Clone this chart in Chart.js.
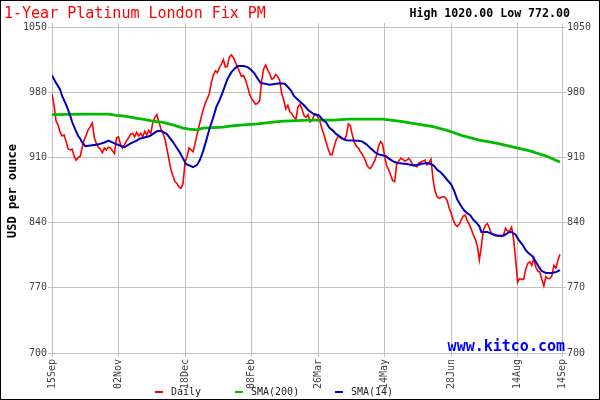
<!DOCTYPE html>
<html>
<head>
<meta charset="utf-8">
<script src="https://cdn.jsdelivr.net/npm/chart.js@4.4.1/dist/chart.umd.min.js"></script>
<style>
html,body{margin:0;padding:0;background:#fff;}
canvas{display:block;}
</style>
</head>
<body>
<canvas id="c" width="600" height="400"></canvas>
<script>
// ---- data ----
const tickLabels = ["15Sep","02Nov","18Dec","08Feb","26Mar","14May","28Jun","14Aug","14Sep"];
const tickIdx = [0,33,66,99,132,165,198,231,253];
const yTicks = [700,770,840,910,980,1050];

const daily = [
978,966,949,945,937,933,934,927,919,918,
919,911,907,910,911,921,929,934,940,943,
947,931,925,921,919,915,920,918,921,920,
917,914,931,932,924,920,924,928,931,935,
936,932,937,933,936,932,938,934,939,936,
947,953,956,948,941,936,930,919,908,897,
890,884,882,878,877,882,905,911,920,918,
916,925,935,944,953,961,968,973,978,990,
998,1003,1001,1006,1010,1015,1007,1008,1018,1020,
1017,1012,1007,1002,997,998,993,986,978,973,
970,967,968,971,992,1005,1009,1004,1000,994,
995,999,997,992,978,971,962,966,959,957,
953,951,964,967,962,955,953,956,948,950,
955,956,953,948,940,934,926,919,913,913,
922,929,933,931,930,929,933,946,944,934,
926,922,920,916,913,909,903,899,898,902,
906,912,922,927,924,912,901,897,891,885,
884,903,906,909,908,906,907,909,906,902,
902,900,904,905,906,907,902,904,908,887,
874,868,866,867,868,867,864,856,850,843,
838,836,838,843,847,848,842,838,833,827,
822,815,800,815,832,837,839,834,828,827,
826,826,826,825,827,834,831,831,835,822,
800,776,780,779,779,790,796,798,794,802,
792,788,787,779,772,782,780,780,783,794,
791,800,806
];

const sma14 = [
[0,998],[2,990],[4,983],[5,976],[6.5,969],[8,961],[9,955],[10,948],[11.5,940],[13,933],
[14,930],[15,926],[16.5,922],[20,923],[23,924],[26,926],[28,928],[31,925],[34.5,922],[36,921],
[39,925],[42,928],[43.5,930],[48.5,933],[52,938],[54,938.5],[57,935],[60,926.5],[63.5,915],[66.5,903],
[70,899.5],[72,902],[73.5,908],[75,917],[76.5,928],[78,940],[80,953],[81.5,964],[83,971],[84.5,979],
[85.5,985],[87,994],[89,1001.5],[90.5,1005],[92,1008],[95,1008],[97,1007],[99,1003.5],[100.5,1000],[102,994.5],
[103.5,990],[108,988],[113,989.5],[115.5,989],[118.5,982],[120,976],[122,972],[123.5,969],[125,966],[127.5,960],
[129.5,957],[132.5,955],[134,951],[136,947.5],[137.5,942],[139.5,938.5],[141,935],[142.5,933],[144,930.5],[146,928.5],
[152,928],[154,927],[156,924],[157.5,921],[159,918],[160.5,915],[162.5,913],[165.5,911.5],[167,909],[169,906],
[170,905],[171.5,904],[176,903],[180,901],[183,903],[186,904],[188,903],[189.5,901],[191,897],[193,893.5],
[194.5,890],[196,886],[198,881],[199.5,874],[201,865],[203,857.5],[204.5,853],[206,850],[207.5,848],[209,843],
[210.5,840],[212,836],[213,830],[216,830],[217.5,828.5],[221,826],[224,826],[227,830],[228,830],[230,827],
[231.5,821.5],[233.5,816],[235,810.5],[236.5,807],[238.5,803.5],[240,798],[241.5,792.5],[243,788],[245,786],[248,786],
[250,787],[252,789]
];

const sma200 = [
[0,956],[16,956.5],[28,956.5],[32,955],[37,954],[42,952],[45,951],[50,949],[55,947.5],[60,945],
[65,941.5],[68,940.4],[72,939.6],[75,941.5],[80,942],[85,942.5],[90,944],[95,945],[102,946],[112,948.3],
[115,949],[122,949.5],[127,950],[140,950],[147,951],[164,951],[168,950],[173,948.7],[179,946.5],[189,943],
[196,939],[204,933],[212,928.5],[221,925],[229,921],[237,917],[245,911.5],[252,905]
];

const seriesNames = ["Daily","SMA(200)","SMA(14)"];
const seriesColors = ["#ff0000","#00bb00","#0000c0"];
const titleText = "1-Year Platinum London Fix PM";
const hiLoText = "High 1020.00 Low 772.00";
const yTitle = "USD per ounce";
const siteText = "www.kitco.com";

// ---- chart ----
const MONO = "'DejaVu Sans Mono', 'Liberation Mono', monospace";
Chart.defaults.font.family = MONO;

const setTicks = s => { s.ticks = tickIdx.map(v => ({value: v})); };
const tickLabel = v => { const k = tickIdx.indexOf(v); return k >= 0 ? tickLabels[k] : ""; };
const setYTicks = s => { s.ticks = yTicks.map(v => ({value: v})); };
const yLabel = v => String(v);

const decor = {
  id: 'decor',
  afterDraw(chart) {
    const ctx = chart.ctx;
    ctx.save();
    // title
    ctx.fillStyle = "#ff0000";
    ctx.font = "15px " + MONO;
    ctx.textAlign = "left"; ctx.textBaseline = "alphabetic";
    ctx.fillText(titleText, 4, 18);
    // high/low
    ctx.fillStyle = "#000";
    ctx.font = "bold 11.6px " + MONO;
    ctx.textAlign = "right";
    ctx.fillText(hiLoText, 570, 17);
    // site
    ctx.fillStyle = "#0000ff";
    ctx.font = "bold 15px " + MONO;
    ctx.textAlign = "right";
    ctx.fillText(siteText, 565, 351);
    // y title
    ctx.save();
    ctx.translate(13, 191);
    ctx.rotate(-Math.PI/2);
    ctx.fillStyle = "#000";
    ctx.font = "bold 12px " + MONO;
    ctx.textAlign = "center"; ctx.textBaseline = "middle";
    ctx.fillText(yTitle, 0, 0);
    ctx.restore();
    // legend
    const lx = [155, 235, 335];
    ctx.font = "10px " + MONO;
    ctx.textAlign = "left"; ctx.textBaseline = "middle";
    for (let k = 0; k < 3; k++) {
      ctx.fillStyle = seriesColors[k];
      ctx.fillRect(lx[k], 391, 8, 2);
      ctx.fillStyle = "#222";
      ctx.fillText(seriesNames[k], lx[k] + 16, 392);
    }
    // border
    ctx.strokeStyle = "#000";
    ctx.lineWidth = 1;
    ctx.strokeRect(0.5, 0.5, 599, 399);
    ctx.restore();
  }
};

new Chart(document.getElementById('c'), {
  type: 'line',
  data: {
    datasets: [
      { label: seriesNames[0], data: daily.map((v,i)=>({x:i,y:v})), borderColor: seriesColors[0], borderWidth: 1.6, pointRadius: 0, order: 3 },
      { label: seriesNames[1], data: sma200.map(p=>({x:p[0],y:p[1]})), borderColor: seriesColors[1], borderWidth: 2.8, pointRadius: 0, order: 2 },
      { label: seriesNames[2], data: sma14.map(p=>({x:p[0],y:p[1]})), borderColor: seriesColors[2], borderWidth: 2, pointRadius: 0, order: 1 }
    ]
  },
  options: {
    responsive: false,
    animation: false,
    devicePixelRatio: 1,
    layout: { padding: 0 },
    plugins: { legend: { display: false }, tooltip: { enabled: false }, title: { display: false } },
    scales: {
      x: {
        type: 'linear', position: 'bottom', min: 0, max: 253,
        afterBuildTicks: setTicks,
        afterFit: s => { s.height = 47; },
        grid: { color: '#c0c0c0', lineWidth: 1, tickLength: 4 },
        border: { color: '#c0c0c0' },
        ticks: { callback: tickLabel, minRotation: 90, maxRotation: 90, autoSkip: false, padding: 2, color: '#444', font: { size: 10 } }
      },
      x2: {
        type: 'linear', position: 'top', min: 0, max: 253,
        afterBuildTicks: setTicks,
        afterFit: s => { s.height = 27; },
        grid: { color: '#c0c0c0', lineWidth: 1, tickLength: 4, drawOnChartArea: false },
        border: { color: '#c0c0c0' },
        ticks: { display: false }
      },
      y: {
        type: 'linear', position: 'left', min: 700, max: 1050,
        afterBuildTicks: setYTicks,
        afterFit: s => { s.width = 52; },
        grid: { color: '#c0c0c0', lineWidth: 1, tickLength: 4 },
        border: { color: '#c0c0c0' },
        ticks: { callback: yLabel, padding: 1, color: '#444', font: { size: 10 } }
      },
      y2: {
        type: 'linear', position: 'right', min: 700, max: 1050,
        afterBuildTicks: setYTicks,
        afterFit: s => { s.width = 38; },
        grid: { color: '#c0c0c0', lineWidth: 1, tickLength: 4, drawOnChartArea: false },
        border: { color: '#c0c0c0' },
        ticks: { callback: yLabel, padding: 1, color: '#444', font: { size: 10 } }
      }
    }
  },
  plugins: [decor]
});
</script>
</body>
</html>
